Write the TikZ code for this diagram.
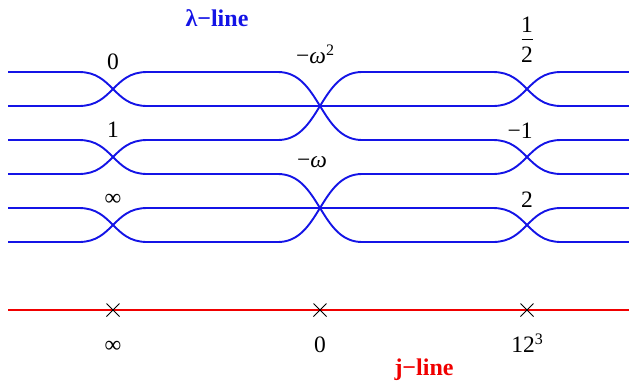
\documentclass[tikz,border=0pt]{standalone}
\usepackage{fontspec}
\setmainfont{Liberation Serif}
\definecolor{lblue}{RGB}{20,20,230}
\definecolor{lred}{RGB}{240,0,0}
\newcommand\strandpath[4]{%
  \draw[strand] (8,#1) -- (79,#1) .. controls (113,#1) and (113,#2) .. (147,#2)
    -- (278,#2) .. controls (320,#2) and (320,#3) .. (362,#3)
    -- (493,#3) .. controls (527,#3) and (527,#4) .. (561,#4) -- (629,#4);}
\newcommand\supfig[1]{\raisebox{8pt}{\fontsize{16}{16}\selectfont #1}}
\begin{document}
\begin{tikzpicture}[x=1pt,y=-1pt,
  strand/.style={draw=lblue, line width=1.9pt},
  jline/.style={draw=lred, line width=1.7pt},
  lab/.style={font=\fontsize{23.5}{27}\selectfont, anchor=base, inner sep=0pt},
  title/.style={font=\fontsize{24}{27}\selectfont\bfseries, anchor=base, inner sep=0pt},
  pole/.style={draw=black, line width=1pt}]
\useasboundingbox (0,0) rectangle (629,381);
% strands
\strandpath{72}{106}{106}{72}
\strandpath{106}{72}{140}{174}
\strandpath{140}{174}{242}{208}
\strandpath{174}{140}{72}{106}
\strandpath{208}{242}{174}{140}
\strandpath{242}{208}{208}{242}
% lambda labels
\node[title, text=lblue] (lam) at (217,26) {λ−line};
\node[lab] (l0) at (113,69) {0};
\node[lab] (l1) at (113,137) {1};
\node[lab] (linf) at (113,205) {∞};
\node[lab, anchor=base west] (lw2) at (296,63) {−\textit{ω}\supfig{2}};
\node[lab, anchor=base west] (lw) at (297,167) {−\textit{ω}};
\node[lab] (lh1) at (527,32) {1};
\node[lab] (lh2) at (527,62) {2};
\coordinate (hb1) at (521.5,39);
\coordinate (hb2) at (532.5,39);
\draw[line width=0.8pt] (hb1) -- (hb2);
\node[lab] (lm1) at (520,138) {−1};
\node[lab] (l2) at (527,207) {2};
% j-line
\coordinate (jl) at (8,310);
\coordinate (jr) at (629,310);
\draw[jline] (jl) -- (jr);
\foreach \n/\x in {pa/113,pb/320,pc/527}{
  \coordinate (\n) at (\x,310);
  \draw[pole] ([shift={(-6.5,-6.5)}]\n) -- ([shift={(6.5,6.5)}]\n);
  \draw[pole] ([shift={(-6.5,6.5)}]\n) -- ([shift={(6.5,-6.5)}]\n);
}
\node[lab] (ja) at (113,352) {∞};
\node[lab] (jb) at (320,352) {0};
\node[lab] (jc) at (527,352) {12\supfig{3}};
\node[title, text=lred] (jt) at (424,375) {j−line};
\end{tikzpicture}
\end{document}
